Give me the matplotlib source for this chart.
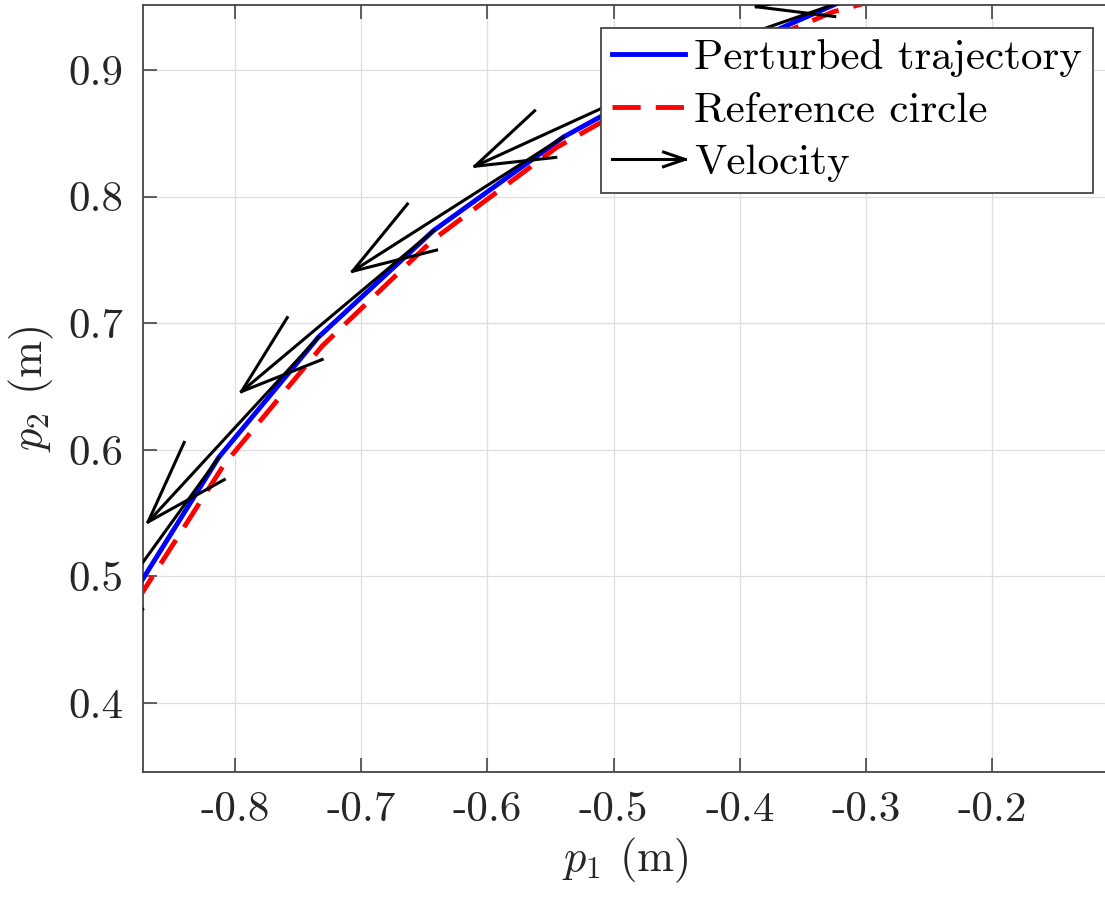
import matplotlib
matplotlib.use("Agg")
import matplotlib.pyplot as plt
from matplotlib.lines import Line2D
from matplotlib.legend_handler import HandlerBase

plt.rcParams['font.family'] = 'serif'
plt.rcParams['font.serif'] = ['cmr10']
plt.rcParams['mathtext.fontset'] = 'cm'
plt.rcParams['axes.unicode_minus'] = False

# perturbed trajectory samples (m)
traj_x = [-0.210, -0.322, -0.441, -0.540, -0.643, -0.734, -0.813, -0.880]
traj_y = [0.985, 0.953, 0.901, 0.847, 0.773, 0.689, 0.594, 0.487]

# reference circle samples (m)
ref_x = [-0.208, -0.326, -0.438, -0.545, -0.643, -0.731, -0.809, -0.875]
ref_y = [0.978, 0.946, 0.899, 0.839, 0.766, 0.682, 0.588, 0.485]

# velocity arrows, drawn from the trajectory samples
vel_u = [-0.177, -0.180, -0.169, -0.167, -0.152, -0.135, -0.116, -0.096]
vel_v = [-0.035, -0.062, -0.077, -0.106, -0.127, -0.146, -0.160, -0.172]

xticks = [-0.8, -0.7, -0.6, -0.5, -0.4, -0.3, -0.2]
xtick_labels = ['-0.8', '-0.7', '-0.6', '-0.5', '-0.4', '-0.3', '-0.2']
yticks = [0.4, 0.5, 0.6, 0.7, 0.8, 0.9]
ytick_labels = ['0.4', '0.5', '0.6', '0.7', '0.8', '0.9']

dark = '#262626'
spine_c = '#454545'


class ArrowHandler(HandlerBase):
    def create_artists(self, legend, orig_handle, xdescent, ydescent,
                       width, height, fontsize, trans):
        y = height / 2 - ydescent
        x0, x1 = -xdescent, width - xdescent
        hl, hw = 0.29 * width, 0.1 * width
        shaft = Line2D([x0, x1], [y, y], color='k', lw=2.2, transform=trans)
        head = Line2D([x1 - hl, x1, x1 - hl], [y + hw, y, y - hw],
                      color='k', lw=2.2, transform=trans)
        return [shaft, head]


fig = plt.figure(figsize=(11.05, 9), dpi=100)
ax = fig.add_axes([143 / 1105, 1 - 772 / 900, (1107 - 143) / 1105, (772 - 5) / 900])

ax.plot(traj_x, traj_y, color='#0000ff', lw=3.5, label='Perturbed trajectory', zorder=3)
ax.plot(ref_x, ref_y, color='#ff0000', lw=3.5, ls=(0, (5.8, 3.1)), label='Reference circle', zorder=4)

# quiver-style open arrows (head = 0.33 of length, width 0.33 of head)
a, b = 0.33, 0.33
for x, y, u, v in zip(traj_x, traj_y, vel_u, vel_v):
    tx, ty = x + u, y + v
    ax.plot([x, tx], [y, ty], color='k', lw=2.2, zorder=5)
    ax.plot([tx - a * (u + b * v), tx, tx - a * (u - b * v)],
            [ty - a * (v - b * u), ty, ty - a * (v + b * u)],
            color='k', lw=2.2, zorder=5)

ax.set_xlim(-0.873, -0.109)
ax.set_ylim(0.3455, 0.9514)
ax.set_xticks(xticks, labels=xtick_labels)
ax.set_yticks(yticks, labels=ytick_labels)
ax.tick_params(direction='in', length=10, width=1.2, color=spine_c, labelcolor=dark,
               labelsize=31, top=True, right=False, pad=14)
ax.grid(True, color='#dedede', lw=0.9)
ax.set_axisbelow(True)
for s in ax.spines.values():
    s.set_color(spine_c)
    s.set_linewidth(1.3)

ax.set_xlabel(r'$p_1$ (m)', fontsize=32, color=dark, labelpad=5)
ax.set_ylabel(r'$p_2$ (m)', fontsize=32, color=dark, labelpad=9)

vel_proxy = Line2D([], [], color='k')
handles, labels = ax.get_legend_handles_labels()
handles.append(vel_proxy)
labels.append('Velocity')
leg = ax.legend(handles, labels, handler_map={vel_proxy: ArrowHandler()},
                loc='upper right', bbox_to_anchor=(1093 / 1105, 1 - 28 / 900),
                bbox_transform=fig.transFigure, fontsize=31, frameon=True,
                fancybox=False, framealpha=1, edgecolor=spine_c, borderaxespad=0,
                borderpad=0.25, handlelength=1.7, handletextpad=0.22,
                labelspacing=0.34)
leg.get_frame().set_linewidth(1.3)

fig.savefig('out.png', dpi=100)
